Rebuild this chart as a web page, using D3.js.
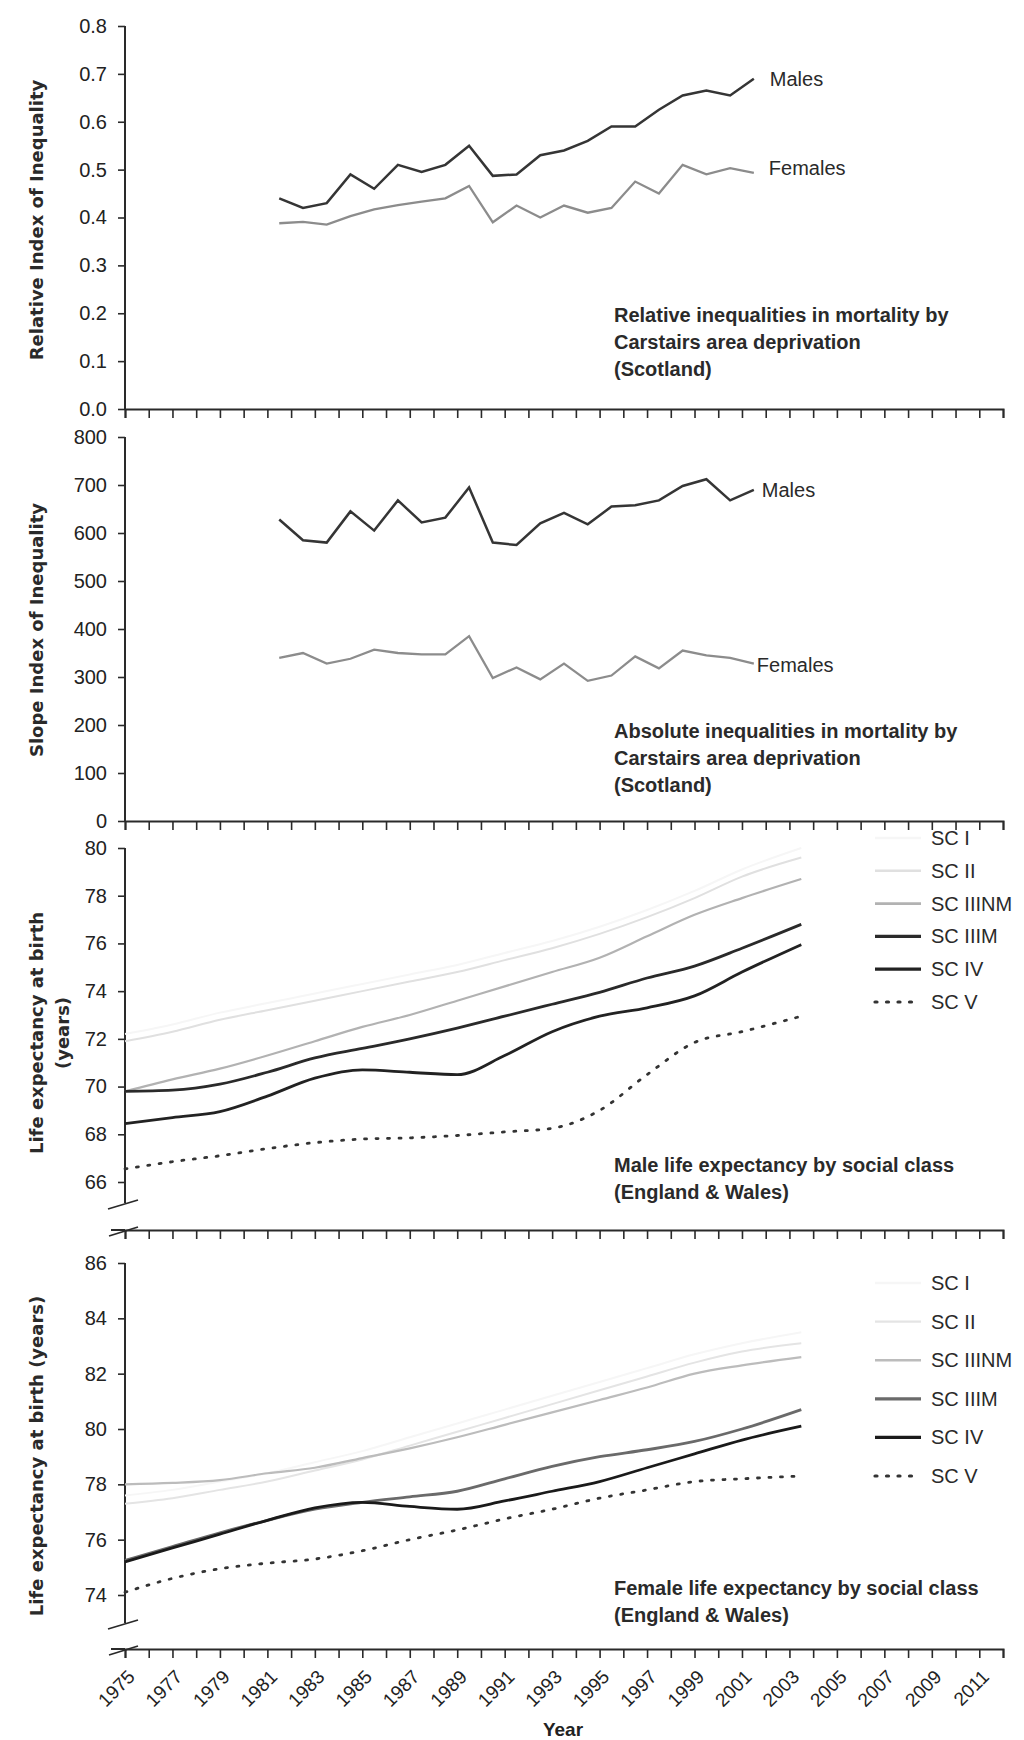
<!DOCTYPE html>
<html><head><meta charset="utf-8">
<script src="https://cdn.jsdelivr.net/npm/d3@7"></script>
<style>
body{margin:0;background:#fff;}
svg{display:block;}
text{font-family:"Liberation Sans",Arial,sans-serif;fill:#222;}
.ytitle{font-family:"DejaVu Sans",sans-serif;font-size:18px;font-weight:bold;fill:#2a2a2a;}
.note{font-size:20px;font-weight:bold;fill:#2a2a2a;}
.lab{font-size:20px;fill:#2a2a2a;}
</style></head>
<body>
<svg id="c" width="1024" height="1740"></svg>
<script>
// ---------- DATA ----------
const scotYears = [1981,1982,1983,1984,1985,1986,1987,1988,1989,1990,1991,1992,1993,1994,1995,1996,1997,1998,1999,2000,2001];
const riiMales   = [0.44,0.42,0.43,0.49,0.46,0.51,0.495,0.51,0.55,0.487,0.49,0.53,0.54,0.56,0.59,0.59,0.625,0.655,0.665,0.655,0.69];
const riiFemales = [0.388,0.391,0.385,0.403,0.417,0.426,0.433,0.44,0.466,0.39,0.425,0.40,0.425,0.41,0.42,0.475,0.45,0.51,0.49,0.503,0.493];
const siiMales   = [628,585,580,645,605,668,622,632,695,580,575,620,642,618,655,658,668,698,712,668,690];
const siiFemales = [340,350,328,338,357,350,347,347,385,298,320,295,328,292,303,343,318,355,345,340,328];

const leYears = [1975,1977,1979,1981,1983,1985,1987,1989,1991,1993,1995,1997,1999,2001,2003.5];
const classes = ["SC I","SC II","SC IIINM","SC IIIM","SC IV","SC V"];
const maleLE = {
  "SC I":     [72.2,72.6,73.1,73.5,73.9,74.3,74.7,75.1,75.6,76.1,76.7,77.4,78.2,79.1,80.0],
  "SC II":    [71.9,72.3,72.8,73.2,73.6,74.0,74.4,74.8,75.3,75.8,76.4,77.1,77.9,78.8,79.6],
  "SC IIINM": [69.8,70.3,70.75,71.3,71.9,72.5,73.0,73.6,74.2,74.8,75.4,76.3,77.2,77.9,78.7],
  "SC IIIM":  [69.8,69.85,70.1,70.6,71.2,71.6,72.0,72.45,72.95,73.45,73.95,74.55,75.05,75.8,76.8],
  "SC IV":    [68.45,68.7,68.95,69.6,70.35,70.7,70.6,70.5,71.3,72.3,72.95,73.3,73.8,74.8,75.95],
  "SC V":     [66.55,66.85,67.1,67.4,67.65,67.8,67.85,67.95,68.1,68.25,69.0,70.5,71.85,72.3,72.95]
};
const femaleLE = {
  "SC I":     [77.6,77.8,78.1,78.4,78.8,79.2,79.7,80.2,80.7,81.2,81.7,82.2,82.7,83.1,83.5],
  "SC II":    [77.3,77.5,77.8,78.1,78.5,78.9,79.4,79.9,80.4,80.9,81.4,81.9,82.4,82.8,83.1],
  "SC IIINM": [78.0,78.05,78.15,78.4,78.6,78.95,79.3,79.7,80.15,80.6,81.05,81.5,82.0,82.3,82.6],
  "SC IIIM":  [75.25,75.75,76.25,76.7,77.1,77.35,77.55,77.75,78.2,78.65,79.0,79.25,79.55,80.0,80.7],
  "SC IV":    [75.2,75.7,76.2,76.7,77.15,77.35,77.2,77.1,77.4,77.75,78.1,78.6,79.1,79.6,80.1],
  "SC V":     [74.1,74.6,74.95,75.15,75.3,75.6,76.0,76.35,76.75,77.1,77.5,77.8,78.1,78.2,78.3]
};
const riiTicks = [0,0.1,0.2,0.3,0.4,0.5,0.6,0.7,0.8];
const siiTicks = [0,100,200,300,400,500,600,700,800];
const maleTicks = [66,68,70,72,74,76,78,80];
const femaleTicks = [74,76,78,80,82,84,86];
const yearTicks = d3.range(1975, 2013);
const yearTickLabels = d3.range(1975, 2012, 2);

// ---------- STYLES ----------
const classStyle = {
  male: {
    "SC I":{c:"#f6f6f6",w:2,d:null},"SC II":{c:"#e0e0e0",w:2,d:null},"SC IIINM":{c:"#b2b2b2",w:2.2,d:null},
    "SC IIIM":{c:"#2a2a2a",w:2.8,d:null},"SC IV":{c:"#222",w:2.8,d:null},"SC V":{c:"#333",w:2.8,d:"2,9.5"}
  },
  female: {
    "SC I":{c:"#f6f6f6",w:2,d:null},"SC II":{c:"#e4e4e4",w:2,d:null},"SC IIINM":{c:"#bcbcbc",w:2.2,d:null},
    "SC IIIM":{c:"#6a6a6a",w:2.8,d:null},"SC IV":{c:"#1a1a1a",w:2.8,d:null},"SC V":{c:"#333",w:2.8,d:"2,9.5"}
  }
};

const svg = d3.select("#c");
const X0 = 125, X1 = 1003;
const x = d3.scaleLinear().domain([1975, 2012]).range([X0, X1]);
const axisColor = "#2a2a2a";

function xAxis(yPos, withLabels, brk) {
  const g = svg.append("g").attr("transform", `translate(0,${yPos})`);
  const ax = d3.axisBottom(x).tickValues(yearTicks).tickSize(9).tickFormat("");
  g.call(ax);
  g.select(".domain").attr("stroke", axisColor).attr("stroke-width", 2);
  g.selectAll(".tick line").attr("stroke", axisColor).attr("stroke-width", 1.6);
  if (brk) {
    g.append("line").attr("x1", X0 - 14).attr("x2", X0).attr("y1", 0).attr("y2", 0).attr("stroke", axisColor).attr("stroke-width", 2);
    g.append("line").attr("x1", X0 - 16).attr("x2", X0 + 13).attr("y1", 6).attr("y2", -3).attr("stroke", axisColor).attr("stroke-width", 1.8);
  }
  if (withLabels) {
    g.selectAll(".yl").data(yearTickLabels).enter().append("text")
      .attr("text-anchor", "end")
      .attr("transform", d => `translate(${x(d) + 11},${29}) rotate(-45)`)
      .style("font-size", "19px").attr("fill", "#2a2a2a")
      .text(d => d);
  }
}

function yAxis(y, ticks, fmt, bottom, brk) {
  const g = svg.append("g").attr("transform", `translate(${X0},0)`);
  const ax = d3.axisLeft(y).tickValues(ticks).tickSize(7).tickPadding(11).tickFormat(fmt);
  g.call(ax);
  g.select(".domain").remove();
  const top = y(ticks[ticks.length - 1]);
  g.append("line").attr("x1", 0).attr("x2", 0).attr("y1", top).attr("y2", bottom).attr("stroke", axisColor).attr("stroke-width", 2);
  g.selectAll(".tick line").attr("stroke", axisColor).attr("stroke-width", 1.6);
  g.selectAll(".tick text").style("font-size", "20px").style("font-family", "'Liberation Sans',Arial,sans-serif").attr("fill", "#2a2a2a");
  if (brk) {
    g.append("line").attr("x1", -17).attr("x2", 13).attr("y1", bottom + 6).attr("y2", bottom - 3).attr("stroke", axisColor).attr("stroke-width", 1.8);
  }
}

function yTitle(lines, cx, cy) {
  const t = svg.append("text").attr("class", "ytitle").attr("text-anchor", "middle")
    .attr("transform", `translate(${cx},${cy}) rotate(-90)`);
  lines.forEach((l, i) => t.append("tspan").attr("x", 0).attr("dy", i === 0 ? 0 : 26).text(l));
}

function note(lines, x0, y0) {
  const t = svg.append("text").attr("class", "note").attr("x", x0).attr("y", y0);
  lines.forEach((l, i) => t.append("tspan").attr("x", x0).attr("dy", i === 0 ? 0 : 27).text(l));
}

// Scottish panels: points plotted mid-category
const lineOffset = 0.5;

// ---------- PANEL 1 ----------
const y1 = d3.scaleLinear().domain([0, 0.8]).range([409, 26]);
yAxis(y1, riiTicks, d3.format(".1f"), 409, false);
xAxis(409, false, false);
const line1 = d3.line().x((d, i) => x(scotYears[i] + lineOffset)).y(d => y1(d));
svg.append("path").attr("d", line1(riiMales)).attr("fill", "none").attr("stroke", "#353535").attr("stroke-width", 2.5);
svg.append("path").attr("d", line1(riiFemales)).attr("fill", "none").attr("stroke", "#8c8c8c").attr("stroke-width", 2.3);
const lastS = scotYears[scotYears.length - 1] + lineOffset;
svg.append("text").attr("class", "lab").attr("x", x(lastS) + 16).attr("y", y1(riiMales[20]) + 7).text("Males");
svg.append("text").attr("class", "lab").attr("x", x(lastS) + 15).attr("y", y1(riiFemales[20]) + 2).text("Females");
yTitle(["Relative Index of Inequality"], 43, 220);
note(["Relative inequalities in mortality by", "Carstairs area deprivation", "(Scotland)"], 614, 322);

// ---------- PANEL 2 ----------
const y2 = d3.scaleLinear().domain([0, 800]).range([821, 437]);
yAxis(y2, siiTicks, d3.format("d"), 821, false);
xAxis(821, false, false);
const line2 = d3.line().x((d, i) => x(scotYears[i] + lineOffset)).y(d => y2(d));
svg.append("path").attr("d", line2(siiMales)).attr("fill", "none").attr("stroke", "#353535").attr("stroke-width", 2.5);
svg.append("path").attr("d", line2(siiFemales)).attr("fill", "none").attr("stroke", "#8c8c8c").attr("stroke-width", 2.3);
svg.append("text").attr("class", "lab").attr("x", x(lastS) + 8).attr("y", y2(siiMales[20]) + 7).text("Males");
svg.append("text").attr("class", "lab").attr("x", x(lastS) + 3).attr("y", y2(siiFemales[20]) + 8).text("Females");
yTitle(["Slope Index of Inequality"], 43, 630);
note(["Absolute inequalities in mortality by", "Carstairs area deprivation", "(Scotland)"], 614, 738);

// ---------- LE panels ----------
function lePanel(y, ticks, data, styles, axisY, brkY, legendTop, legendStep, labels) {
  yAxis(y, ticks, d3.format("d"), brkY, true);
  xAxis(axisY, labels, true);
  const ln = d3.line().x((d, i) => x(leYears[i])).y(d => y(d)).curve(d3.curveMonotoneX);
  classes.forEach(c => {
    const s = styles[c];
    svg.append("path").attr("d", ln(data[c])).attr("fill", "none").attr("stroke", s.c)
      .attr("stroke-width", s.w).attr("stroke-dasharray", s.d).attr("stroke-linecap", s.d ? "round" : "butt");
  });
  const lg = svg.append("g");
  classes.forEach((c, i) => {
    const s = styles[c];
    const yy = legendTop + i * legendStep;
    lg.append("line").attr("x1", 875).attr("x2", 921).attr("y1", yy).attr("y2", yy)
      .attr("stroke", s.c).attr("stroke-width", s.w + 0.4).attr("stroke-dasharray", s.d).attr("stroke-linecap", s.d ? "round" : "butt");
    lg.append("text").attr("class", "lab").attr("x", 931).attr("y", yy + 7).text(c);
  });
}

const y3 = d3.scaleLinear().domain([66, 80]).range([1182, 848]);
lePanel(y3, maleTicks, maleLE, classStyle.male, 1230, 1203, 838, 32.8, false);
yTitle(["Life expectancy at birth", "(years)"], 43, 1033);
note(["Male life expectancy by social class", "(England & Wales)"], 614, 1172);

const y4 = d3.scaleLinear().domain([74, 86]).range([1595, 1263]);
lePanel(y4, femaleTicks, femaleLE, classStyle.female, 1649, 1623, 1283, 38.6, true);
yTitle(["Life expectancy at birth (years)"], 43, 1456);
note(["Female life expectancy by social class", "(England & Wales)"], 614, 1595);

svg.append("text").attr("x", 563).attr("y", 1736).attr("text-anchor", "middle")
  .style("font-size", "19px").style("font-weight", "bold").attr("fill", "#2a2a2a").text("Year");
</script>
</body></html>
